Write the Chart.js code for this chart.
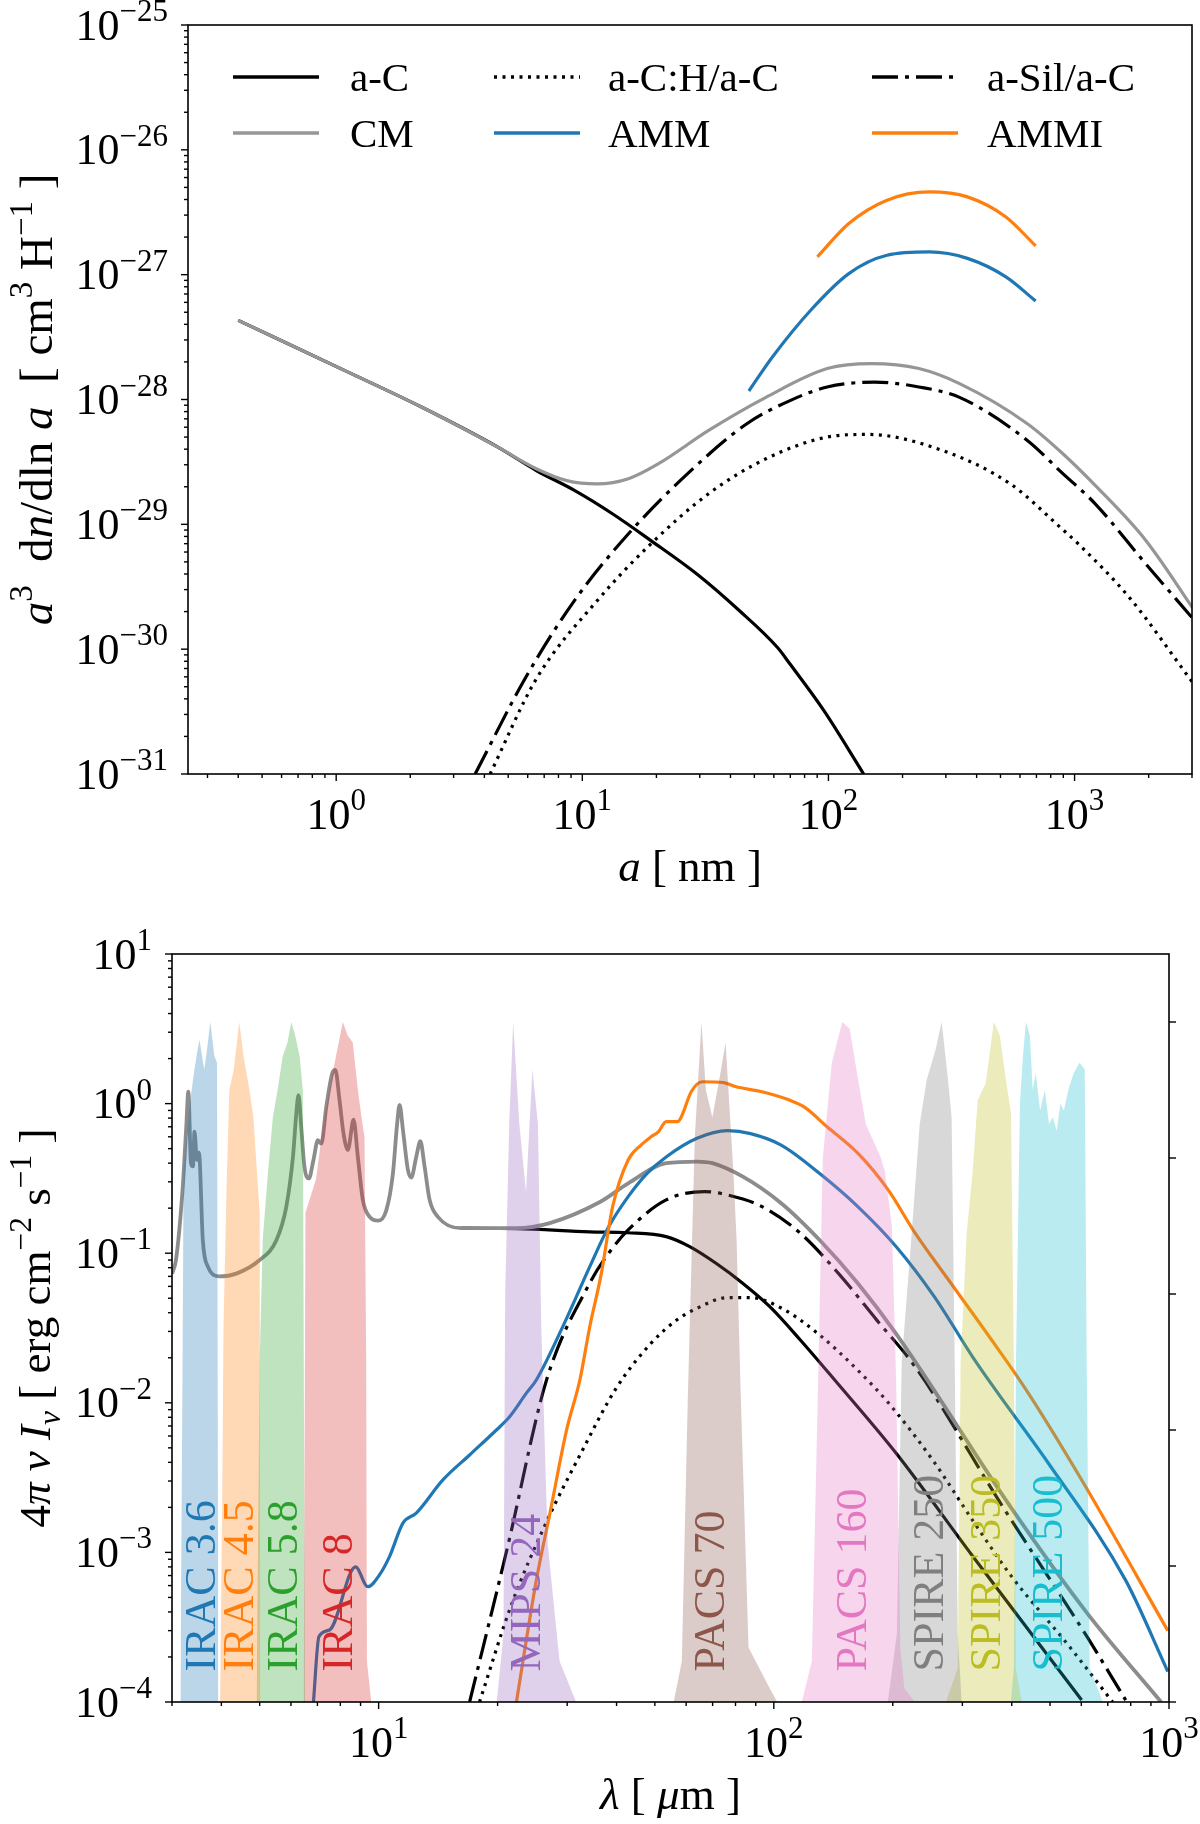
<!DOCTYPE html>
<html lang="en">
<head>
<meta charset="UTF-8">
<title>Grain size distributions and dust SEDs</title>
<script src="https://cdn.jsdelivr.net/npm/chart.js@4.4.0/dist/chart.umd.min.js"></script>
<style>
  html, body { margin: 0; padding: 0; background: #fff; }
  #wrap { position: relative; width: 1200px; height: 1824px; }
  canvas { position: absolute; left: 0; }
  #sizeDist { top: 0; }
  #sed { top: 900px; }
</style>
</head>
<body>
<div id="wrap">
  <canvas id="sizeDist" width="1200" height="900"></canvas>
  <canvas id="sed" width="1200" height="924"></canvas>
</div>
<script>
// ---- top panel: a^3 dn/dln a against grain radius a [nm]
const sizeAC   = [0.40, 1.08, 2.22, 4.54, 6.5, 9.29, 13.3, 19.0, 29.2, 43.4, 62.1, 69.8, 96, 139];
const distAC   = [4.3e-28, 1.71e-28, 8.7e-29, 4.15e-29, 2.70e-29, 1.87e-29, 1.21e-29, 7.41e-30, 4.0e-30, 2.04e-30, 1.03e-30, 7.6e-31, 3.2e-31, 1.0e-31];
const sizeACH  = [4.22, 6.5, 11.5, 19.0, 32.6, 55.7, 98.8, 145, 291, 548, 883, 1035, 1667, 3040];
const distACH  = [1.0e-31, 5.77e-31, 2.45e-30, 6.98e-30, 1.76e-29, 3.35e-29, 5.0e-29, 5.25e-29, 3.9e-29, 2.11e-29, 9.3e-30, 6.98e-30, 2.6e-30, 5.3e-31];
const sizeSil  = [3.67, 5.84, 9.29, 15.4, 27.2, 46.6, 69.8, 98.8, 154, 233, 341, 643, 883, 1213, 1951, 2993];
const distSil  = [1.0e-31, 5.77e-31, 2.45e-30, 8.4e-30, 2.62e-29, 6.4e-29, 9.8e-29, 1.26e-28, 1.38e-28, 1.26e-28, 1.04e-28, 4.7e-29, 2.62e-29, 1.46e-29, 4.8e-30, 1.8e-30];
const sizeCM   = [0.40, 1.08, 2.22, 4.54, 6.5, 8.65, 11.5, 15.4, 20.4, 32.6, 55.7, 98.8, 150, 233, 341, 643, 883, 1213, 1951, 3090];
const distCM   = [4.3e-28, 1.71e-28, 8.7e-29, 4.15e-29, 2.79e-29, 2.24e-29, 2.11e-29, 2.32e-29, 3.06e-29, 5.65e-29, 1.04e-28, 1.77e-28, 1.94e-28, 1.77e-28, 1.34e-28, 6.4e-29, 3.78e-29, 2.05e-29, 7.4e-30, 2.0e-30];
const sizeAMM  = [47.5, 59.2, 84.7, 121, 173, 257, 367, 526, 695];
const distAMM  = [1.17e-28, 2.19e-28, 5.19e-28, 1.02e-27, 1.43e-27, 1.52e-27, 1.35e-27, 9.6e-28, 6.15e-28];
const sizeAMMI = [90.2, 121, 173, 257, 367, 526, 695];
const distAMMI = [1.39e-27, 2.57e-27, 3.95e-27, 4.6e-27, 4.2e-27, 2.9e-27, 1.7e-27];
const sizeTicks = [1, 10, 100, 1000];
const distTicks = [1e-31, 1e-30, 1e-29, 1e-28, 1e-27, 1e-26, 1e-25];
const legendLabels = [['a-C', 'a-C:H/a-C', 'a-Sil/a-C'], ['CM', 'AMM', 'AMMI']];

// ---- bottom panel: 4 pi nu I_nu against wavelength [micron]
const lamCM   = [3.00, 3.07, 3.19, 3.26, 3.30, 3.35, 3.39, 3.42, 3.47, 3.51, 3.59, 3.70, 3.96, 4.36, 5.00, 5.51, 5.84, 6.07, 6.19, 6.27, 6.37, 6.49, 6.66, 6.84, 7.02, 7.16, 7.37, 7.63, 7.77, 7.96, 8.15, 8.36, 8.64, 8.86, 9.12, 9.49, 9.96, 10.46, 10.87, 11.12, 11.30, 11.52, 11.86, 12.09, 12.45, 12.75, 13.07, 13.46, 14.13, 16.19, 22.3, 27.1, 36.3, 42.8, 53.4, 63.9, 69.9, 83.5, 104.4, 130.4, 163.1, 203.8, 398, 622, 955];
const sedCM   = [0.073, 0.090, 0.264, 0.70, 1.20, 0.40, 0.38, 0.65, 0.42, 0.47, 0.122, 0.081, 0.070, 0.073, 0.090, 0.122, 0.205, 0.44, 0.86, 1.14, 0.70, 0.38, 0.316, 0.42, 0.57, 0.54, 0.95, 1.59, 1.68, 1.06, 0.63, 0.49, 0.78, 0.44, 0.227, 0.175, 0.165, 0.194, 0.342, 0.70, 0.98, 0.67, 0.36, 0.32, 0.44, 0.56, 0.38, 0.227, 0.175, 0.147, 0.147, 0.159, 0.22, 0.293, 0.40, 0.41, 0.40, 0.325, 0.216, 0.123, 0.063, 0.029, 2.0e-3, 3.9e-4, 1.0e-4];
const lamAC   = [16.19, 22.3, 34.2, 42.7, 53.4, 61.1, 71.4, 83.4, 97.7, 116.7, 142.6, 204, 318, 601];
const sedAC   = [0.147, 0.146, 0.139, 0.137, 0.129, 0.111, 0.0856, 0.063, 0.0439, 0.0263, 0.0142, 4.6e-3, 9.5e-4, 1.03e-4];
const lamACH  = [18.0, 21.7, 26.6, 32.5, 39.9, 48.9, 57.0, 64.1, 76.4, 87.3, 104.4, 130.4, 163.1, 194.9, 254.7, 318.4, 398, 556, 720];
const sedACH  = [1e-4, 4.5e-4, 1.6e-3, 4.6e-3, 0.0125, 0.025, 0.036, 0.043, 0.0505, 0.0505, 0.043, 0.0285, 0.0165, 0.0100, 4.0e-3, 1.64e-3, 7.0e-4, 2.4e-4, 1e-4];
const lamSil  = [16.99, 21.2, 26.6, 34.2, 38.2, 42.8, 53.4, 66.8, 76.4, 93.3, 116.7, 145.9, 182.2, 227.9, 380.5, 622, 777];
const sedSil  = [1e-4, 1.09e-3, 0.0142, 0.063, 0.10, 0.143, 0.227, 0.258, 0.245, 0.205, 0.136, 0.073, 0.0357, 0.0174, 2.0e-3, 2.7e-4, 1.03e-4];
const lamAMM  = [6.84, 7.06, 7.51, 8.74, 9.39, 10.05, 10.66, 11.52, 12.45, 14.54, 16.99, 19.86, 21.45, 23.65, 25.06, 29.9, 34.2, 38.2, 42.8, 47.8, 53.4, 63.9, 76.4, 87.3, 104.4, 130.4, 163.1, 203.8, 254.7, 318.4, 364, 496.7, 777, 993];
const sedAMM  = [1e-4, 2.73e-4, 3.03e-4, 8.0e-4, 5.9e-4, 7.07e-4, 9.4e-4, 1.57e-3, 1.83e-3, 3.05e-3, 4.48e-3, 6.58e-3, 8.07e-3, 0.0116, 0.0142, 0.0367, 0.081, 0.150, 0.239, 0.342, 0.44, 0.586, 0.659, 0.63, 0.528, 0.342, 0.205, 0.111, 0.0513, 0.0203, 0.0122, 3.9e-3, 6.5e-4, 1.6e-4];
const lamAMMI = [22.32, 25.06, 27.1, 29.9, 32.3, 34.2, 36.6, 39.1, 42.8, 46.2, 48.9, 51.1, 53.4, 57.1, 58.4, 61.8, 66.0, 74.7, 79.9, 93.3, 109.1, 119.3, 136.4, 163.1, 194.9, 227.9, 284.8, 355.8, 435.1, 608, 993];
const sedAMMI = [1e-4, 6.5e-4, 1.8e-3, 6.6e-3, 0.0142, 0.032, 0.073, 0.205, 0.42, 0.53, 0.60, 0.65, 0.757, 0.757, 0.82, 1.20, 1.40, 1.38, 1.30, 1.20, 1.06, 0.95, 0.70, 0.466, 0.264, 0.136, 0.0597, 0.0263, 0.0122, 2.9e-3, 3.0e-4];
const lamTicks = [10, 100, 1000];
const sedTicks = [1e-4, 1e-3, 1e-2, 1e-1, 1, 10];
const transTicks = [0, 0.2, 0.4, 0.6, 0.8, 1.0];

// filter transmission curves (normalised to 1)
const irac36Lam = [3.15, 3.19, 3.21, 3.30, 3.39, 3.46, 3.52, 3.62, 3.68, 3.75, 3.84, 3.90, 3.93];
const irac36Tr  = [0, 0.5, 0.78, 0.86, 0.915, 0.95, 0.974, 0.93, 0.96, 1.0, 0.95, 0.94, 0];
const irac45Lam = [3.97, 4.02, 4.05, 4.12, 4.19, 4.30, 4.44, 4.55, 4.71, 4.82, 4.92, 5.00, 5.02];
const irac45Tr  = [0, 0.3, 0.55, 0.75, 0.9, 0.93, 1.0, 0.95, 0.9, 0.86, 0.78, 0.72, 0];
const irac58Lam = [4.91, 5.00, 5.09, 5.25, 5.40, 5.55, 5.72, 5.88, 6.01, 6.15, 6.31, 6.43, 6.51];
const irac58Tr  = [0, 0.5, 0.68, 0.78, 0.86, 0.9, 0.95, 0.97, 1.0, 0.98, 0.95, 0.9, 0];
const irac8Lam  = [6.46, 6.53, 6.70, 6.95, 7.20, 7.51, 7.80, 8.12, 8.35, 8.60, 8.86, 9.05, 9.21, 9.30, 9.34, 9.58];
const irac8Tr   = [0, 0.72, 0.74, 0.77, 0.84, 0.9, 0.95, 1.0, 0.98, 0.97, 0.9, 0.86, 0.83, 0.5, 0.06, 0];
const mips24Lam = [19.9, 20.7, 20.9, 21.4, 21.9, 22.7, 23.6, 24.5, 25.3, 25.8, 26.8, 28.7, 31.6];
const mips24Tr  = [0, 0.1, 0.6, 0.85, 1.0, 0.85, 0.75, 0.93, 0.85, 0.55, 0.23, 0.06, 0];
const pacs70Lam = [55.8, 58.5, 60.6, 63.1, 65.6, 67.3, 69.9, 73.0, 75.5, 79.0, 80.5, 82.3, 86.3, 97.7, 102];
const pacs70Tr  = [0, 0.06, 0.45, 0.83, 1.0, 0.9, 0.86, 0.92, 0.97, 0.78, 0.68, 0.47, 0.08, 0.02, 0];
const pacs160Lam = [117.7, 124.8, 129.2, 133, 140.2, 149, 155.6, 162.9, 170.9, 186.7, 191, 199, 204, 209, 214, 227.5];
const pacs160Tr  = [0, 0.06, 0.45, 0.8, 0.94, 1.0, 0.99, 0.92, 0.85, 0.8, 0.78, 0.7, 0.47, 0.08, 0.02, 0];
const spire250Lam = [194.3, 204.8, 210.7, 222.7, 234, 243.8, 256.8, 265.9, 275.4, 281.8, 286.9, 292, 298.8];
const spire250Tr  = [0, 0.1, 0.5, 0.68, 0.85, 0.915, 0.96, 1.0, 0.92, 0.86, 0.5, 0.1, 0];
const spire350Lam = [272.5, 292, 297, 307.7, 318.5, 328, 343.7, 360.4, 373.2, 384.4, 398.2, 405, 409.6, 424];
const spire350Tr  = [0, 0.05, 0.5, 0.69, 0.78, 0.885, 0.91, 1.0, 0.98, 0.925, 0.866, 0.5, 0.05, 0];
const spire500Lam = [398, 405, 410, 419.6, 427, 434.5, 444.6, 452, 460, 472, 485, 497, 508, 520, 531, 542, 556, 574, 594, 612, 619, 630, 680];
const spire500Tr  = [0, 0.05, 0.5, 0.88, 0.95, 1.0, 0.98, 0.9, 0.925, 0.87, 0.9, 0.85, 0.86, 0.84, 0.88, 0.87, 0.9, 0.925, 0.94, 0.93, 0.5, 0.05, 0];
const filterNames   = ['IRAC 3.6', 'IRAC 4.5', 'IRAC 5.8', 'IRAC 8', 'MIPS 24', 'PACS 70', 'PACS 160', 'SPIRE 250', 'SPIRE 350', 'SPIRE 500'];
const filterCentres = [3.6, 4.5, 5.8, 8, 24, 70, 160, 250, 350, 500];
const filterLabelY  = 1.6e-4;

// ---- styling
const FONT = '"Liberation Serif", "DejaVu Serif", serif';
const TICK_PX = 44, SUP_PX = 31;
const GREY = '#969696', BLUE = '#1f77b4', ORANGE = '#ff7f0e';
const TAB10 = ['31,119,180', '255,127,14', '44,160,44', '214,39,40', '148,103,189',
               '140,86,75', '227,119,194', '127,127,127', '188,189,34', '23,190,207'];
const DOTTED = [3, 5.5], DASHDOT = [26, 7, 4, 7];

function pts(xs, ys) { return xs.map((x, i) => ({ x: x, y: ys[i] })); }

function series(xs, ys, color, dash, order, width) {
  return {
    data: pts(xs, ys), borderColor: color, borderWidth: width || 3.2, borderDash: dash,
    borderCapStyle: 'butt', fill: false, pointRadius: 0,
    cubicInterpolationMode: 'monotone', order: order
  };
}

function band(xs, ts, i) {
  return {
    data: pts(xs, ts), yAxisID: 'yT', borderColor: 'rgba(0,0,0,0)', borderWidth: 0,
    backgroundColor: 'rgba(' + TAB10[i] + ',0.3)', fill: 'origin',
    pointRadius: 0, tension: 0, order: 1 + i
  };
}

function logTicks(lo, hi) {
  const out = [];
  for (let n = Math.floor(Math.log10(lo)); n <= Math.ceil(Math.log10(hi)); n++) {
    for (let m = 1; m <= 9; m++) {
      const v = m * Math.pow(10, n);
      if (v >= lo * 0.9999 && v <= hi * 1.0001) out.push({ v: v, major: m === 1 });
    }
  }
  return out;
}

function expText(v) {
  const n = Math.round(Math.log10(v));
  return n < 0 ? '\u2212' + (-n) : String(n);
}

// "10" with a raised exponent; y is the middle of the digits
function powLabel(ctx, v, x, y, align) {
  const exp = expText(v);
  ctx.font = TICK_PX + 'px ' + FONT;
  const wb = ctx.measureText('10').width;
  ctx.font = SUP_PX + 'px ' + FONT;
  const ws = ctx.measureText(exp).width;
  let x0 = x;
  if (align === 'right') x0 = x - wb - ws;
  else if (align === 'center') x0 = x - (wb + ws) / 2;
  const base = y + TICK_PX * 0.33;
  ctx.textAlign = 'left';
  ctx.textBaseline = 'alphabetic';
  ctx.fillStyle = '#000';
  ctx.font = TICK_PX + 'px ' + FONT;
  ctx.fillText('10', x0, base);
  ctx.font = SUP_PX + 'px ' + FONT;
  ctx.fillText(exp, x0 + wb, base - TICK_PX * 0.42);
}

// mixed roman / italic / super / subscript text, centred on x, baseline y
function richText(ctx, segs, x, y, px, vertical) {
  const fontOf = s => (s.i ? 'italic ' : '') + (s.p ? px * 0.7 : px) + 'px ' + FONT;
  let total = 0;
  segs.forEach(s => { ctx.font = fontOf(s); s.w = ctx.measureText(s.t).width; total += s.w; });
  ctx.save();
  ctx.translate(x, y);
  if (vertical) ctx.rotate(-Math.PI / 2);
  ctx.textAlign = 'left';
  ctx.textBaseline = 'alphabetic';
  ctx.fillStyle = '#000';
  let cx = -total / 2;
  segs.forEach(s => {
    ctx.font = fontOf(s);
    const dy = s.p === 'sup' ? -px * 0.42 : s.p === 'sub' ? px * 0.22 : 0;
    ctx.fillText(s.t, cx, dy);
    cx += s.w;
  });
  ctx.restore();
}

function drawBox(ctx, a) {
  ctx.strokeStyle = '#000';
  ctx.lineWidth = 1.6;
  ctx.strokeRect(a.left, a.top, a.right - a.left, a.bottom - a.top);
}

function leftLogAxis(ctx, scale, a, majors) {
  ctx.strokeStyle = '#000';
  ctx.lineWidth = 1.4;
  logTicks(scale.min, scale.max).forEach(t => {
    const p = scale.getPixelForValue(t.v);
    ctx.beginPath();
    ctx.moveTo(a.left, p);
    ctx.lineTo(a.left - (t.major ? 7 : 4), p);
    ctx.stroke();
  });
  majors.forEach(v => powLabel(ctx, v, a.left - 20, scale.getPixelForValue(v), 'right'));
}

function bottomLogAxis(ctx, scale, a, majors) {
  ctx.strokeStyle = '#000';
  ctx.lineWidth = 1.4;
  logTicks(scale.min, scale.max).forEach(t => {
    const p = scale.getPixelForValue(t.v);
    ctx.beginPath();
    ctx.moveTo(p, a.bottom);
    ctx.lineTo(p, a.bottom + (t.major ? 7 : 4));
    ctx.stroke();
  });
  majors.forEach(v => powLabel(ctx, v, scale.getPixelForValue(v), a.bottom + 40, 'center'));
}

const sizeFrame = {
  id: 'sizeFrame',
  afterDraw(chart) {
    const ctx = chart.ctx, a = chart.chartArea;
    ctx.save();
    drawBox(ctx, a);
    leftLogAxis(ctx, chart.scales.y, a, distTicks);
    bottomLogAxis(ctx, chart.scales.x, a, sizeTicks);
    richText(ctx, [{ t: 'a', i: true }, { t: ' [ nm ]' }], (a.left + a.right) / 2, a.bottom + 107, 45, false);
    richText(ctx, [
      { t: 'a', i: true }, { t: '3', p: 'sup' }, { t: '  d' }, { t: 'n', i: true },
      { t: '/dln ' }, { t: 'a', i: true }, { t: '  [ cm' }, { t: '3', p: 'sup' },
      { t: ' H' }, { t: '\u22121', p: 'sup' }, { t: ' ]' }
    ], 52, (a.top + a.bottom) / 2, 47, true);

    // legend, three columns by two rows
    const styles = [[['#000', []], ['#000', DOTTED], ['#000', DASHDOT]],
                    [[GREY, []], [BLUE, []], [ORANGE, []]]];
    const lineX = [233, 494, 872], textX = [350, 608, 987], rowY = [77, 133];
    ctx.font = '41px ' + FONT;
    ctx.textAlign = 'left';
    ctx.textBaseline = 'alphabetic';
    for (let r = 0; r < 2; r++) {
      for (let c = 0; c < 3; c++) {
        const st = styles[r][c];
        ctx.strokeStyle = st[0];
        ctx.lineWidth = 3.6;
        ctx.lineCap = 'butt';
        ctx.setLineDash(st[1]);
        ctx.beginPath();
        ctx.moveTo(lineX[c], rowY[r]);
        ctx.lineTo(lineX[c] + 86, rowY[r]);
        ctx.stroke();
        ctx.setLineDash([]);
        ctx.fillStyle = '#000';
        ctx.fillText(legendLabels[r][c], textX[c], rowY[r] + 14);
      }
    }
    ctx.restore();
  }
};

const sedFrame = {
  id: 'sedFrame',
  afterDatasetsDraw(chart) {
    const ctx = chart.ctx, xs = chart.scales.x, ys = chart.scales.y;
    ctx.save();
    ctx.font = '44px ' + FONT;
    ctx.textAlign = 'left';
    ctx.textBaseline = 'middle';
    filterNames.forEach((name, i) => {
      ctx.save();
      ctx.translate(xs.getPixelForValue(filterCentres[i]), ys.getPixelForValue(filterLabelY));
      ctx.rotate(-Math.PI / 2);
      ctx.fillStyle = 'rgb(' + TAB10[i] + ')';
      ctx.fillText(name, 0, 0);
      ctx.restore();
    });
    ctx.restore();
  },
  afterDraw(chart) {
    const ctx = chart.ctx, a = chart.chartArea;
    ctx.save();
    drawBox(ctx, a);
    leftLogAxis(ctx, chart.scales.y, a, sedTicks);
    bottomLogAxis(ctx, chart.scales.x, a, lamTicks);
    const yt = chart.scales.yT;
    ctx.lineWidth = 1.4;
    transTicks.forEach(v => {
      const p = yt.getPixelForValue(v);
      ctx.beginPath();
      ctx.moveTo(a.right, p);
      ctx.lineTo(a.right + 7, p);
      ctx.stroke();
    });
    richText(ctx, [{ t: '\u03bb', i: true }, { t: ' [ ' }, { t: '\u03bc', i: true }, { t: 'm ]' }],
      (a.left + a.right) / 2, a.bottom + 107, 45, false);
    richText(ctx, [
      { t: '4' }, { t: '\u03c0', i: true }, { t: ' ' }, { t: '\u03bd', i: true }, { t: ' ' },
      { t: 'I', i: true }, { t: '\u03bd', i: true, p: 'sub' }, { t: ' [ erg cm' },
      { t: '\u22122', p: 'sup' }, { t: ' s' }, { t: '\u22121', p: 'sup' }, { t: ' ]' }
    ], 50, (a.top + a.bottom) / 2, 45, true);
    ctx.restore();
  }
};

const common = {
  responsive: false, animation: false, devicePixelRatio: 1,
  plugins: { legend: { display: false }, tooltip: { enabled: false } },
  elements: { point: { radius: 0 } }
};

new Chart(document.getElementById('sizeDist'), {
  type: 'line',
  data: {
    datasets: [
      series(sizeAMMI, distAMMI, ORANGE, [], 1),
      series(sizeAMM, distAMM, BLUE, [], 2),
      series(sizeCM, distCM, GREY, [], 3),
      series(sizeSil, distSil, '#000', DASHDOT, 4),
      series(sizeACH, distACH, '#000', DOTTED, 5),
      series(sizeAC, distAC, '#000', [], 6)
    ]
  },
  options: Object.assign({}, common, {
    layout: { padding: { left: 188, right: 8, top: 25, bottom: 126 } },
    scales: {
      x: { type: 'logarithmic', min: 0.25, max: 3000, display: false },
      y: { type: 'logarithmic', min: 1e-31, max: 1e-25, display: false }
    }
  }),
  plugins: [sizeFrame]
});

new Chart(document.getElementById('sed'), {
  type: 'line',
  data: {
    datasets: [
      band(irac36Lam, irac36Tr, 0), band(irac45Lam, irac45Tr, 1),
      band(irac58Lam, irac58Tr, 2), band(irac8Lam, irac8Tr, 3),
      band(mips24Lam, mips24Tr, 4), band(pacs70Lam, pacs70Tr, 5),
      band(pacs160Lam, pacs160Tr, 6), band(spire250Lam, spire250Tr, 7),
      band(spire350Lam, spire350Tr, 8), band(spire500Lam, spire500Tr, 9),
      series(lamAMMI, sedAMMI, ORANGE, [], 20),
      series(lamAMM, sedAMM, BLUE, [], 21),
      series(lamCM, sedCM, '#8c8c8c', [], 22, 3.8),
      series(lamSil, sedSil, '#000', DASHDOT, 23),
      series(lamACH, sedACH, '#000', DOTTED, 24),
      series(lamAC, sedAC, '#000', [], 25)
    ]
  },
  options: Object.assign({}, common, {
    layout: { padding: { left: 172, right: 31, top: 54, bottom: 122 } },
    scales: {
      x: { type: 'logarithmic', min: 3, max: 1000, display: false },
      y: { type: 'logarithmic', min: 1e-4, max: 10, display: false },
      yT: { type: 'linear', position: 'right', min: 0, max: 1.1, display: false }
    }
  }),
  plugins: [sedFrame]
});
</script>
</body>
</html>
